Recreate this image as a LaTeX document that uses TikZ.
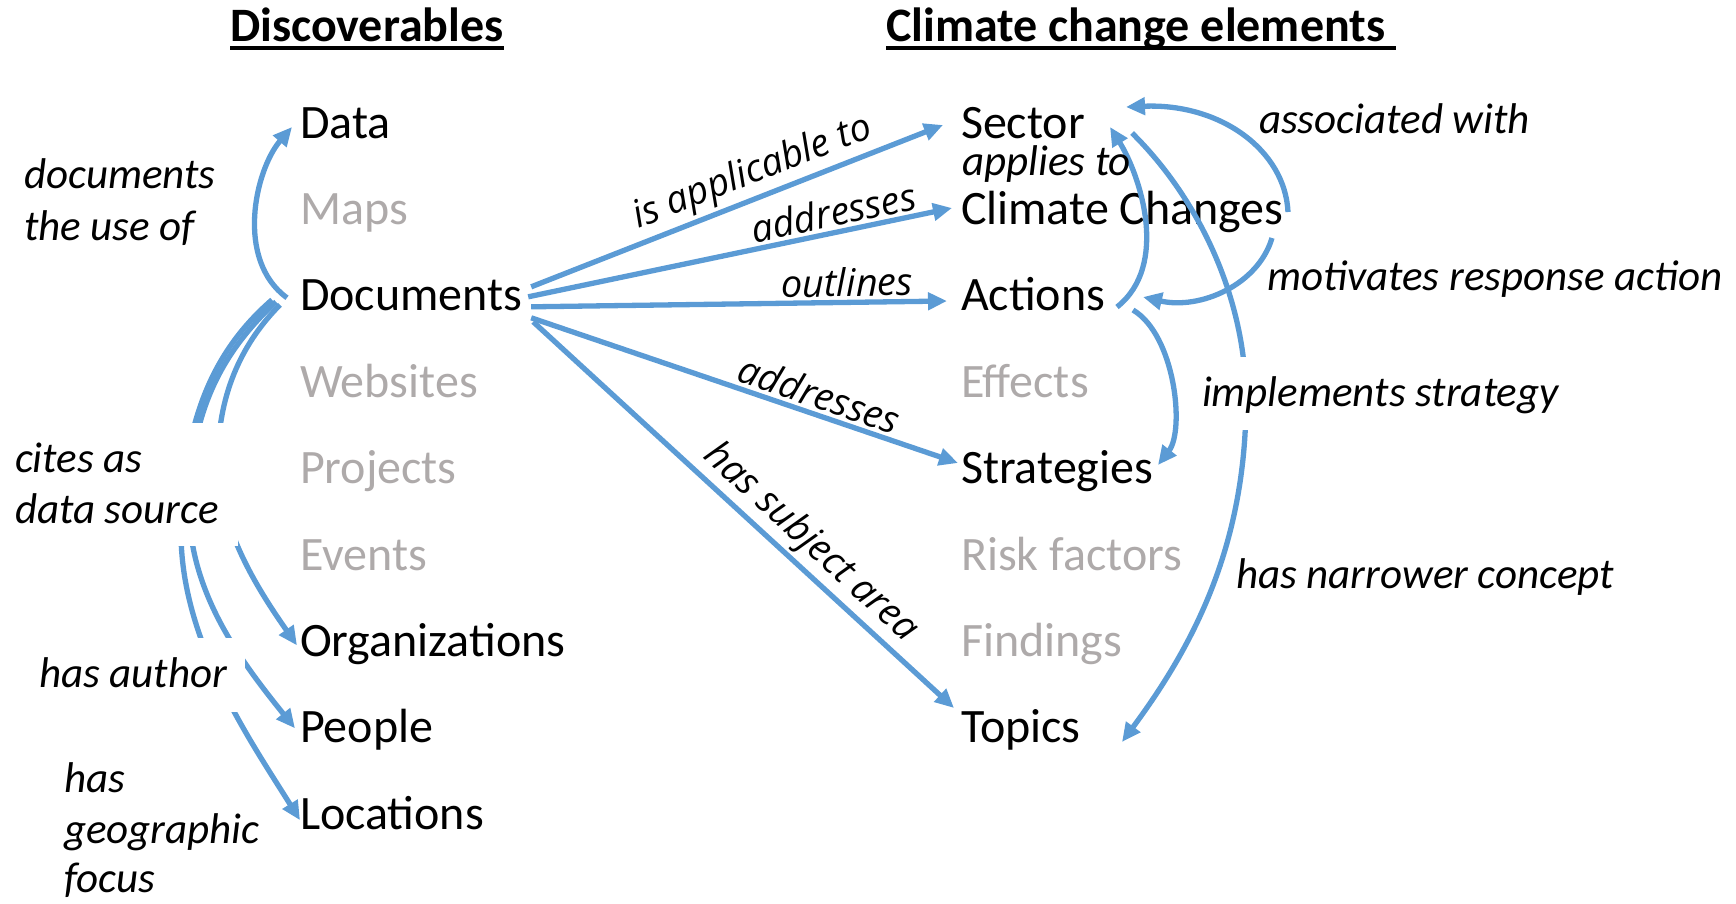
\documentclass[tikz,border=0pt]{standalone}
\usepackage{fontspec}
\setmainfont{Carlito}
\newfontfamily\osans{Open Sans}
\usetikzlibrary{arrows.meta,calc}
\definecolor{lblue}{HTML}{5B9BD5}
\definecolor{lgrey}{HTML}{AEAAAA}
\begin{document}
\begin{tikzpicture}[x=1pt,y=-1pt,
  word/.style={anchor=base west, inner sep=0pt, outer sep=0pt, font=\fontsize{48}{57}\selectfont},
  dim/.style={word, text=lgrey},
  lab/.style={anchor=base west, inner sep=0pt, outer sep=0pt, font=\fontsize{43}{51}\selectfont\itshape},
  mlab/.style={inner sep=3pt, sloped, font=\osans\fontsize{38}{45}\selectfont\itshape},
  arr/.style={draw=lblue, line width=5.3pt, -{Triangle[length=19pt,width=17pt]}},
  ttl/.style={anchor=base west, inner sep=0pt, outer sep=0pt, font=\fontsize{48}{57}\selectfont\bfseries},
  uline/.style={line width=3.5pt}]
\useasboundingbox (0,0) rectangle (1736,903);

% titles
\node[ttl] (t1) at (230,41) {Discoverables};
\node[ttl] (t2) at (886,41) {Climate change elements};
\draw[uline] ($(t1.base west)+(0,7)$) -- ($(t1.base east)+(0,7)$);
\draw[uline] ($(t2.base west)+(0,7)$) -- ($(t2.base east)+(11,7)$);

% left column
\node[word] (data)   at (300,138)   {Data};
\node[dim]  (maps)   at (300,224.4) {Maps};
\node[word] (doc)    at (300,310.8) {Documents};
\node[dim]  (web)    at (300,397.2) {Websites};
\node[dim]  (proj)   at (300,483.6) {Projects};
\node[dim]  (events) at (300,570)   {Events};
\node[word] (org)    at (300,656.4) {Organizations};
\node[word] (people) at (300,742.8) {People};
\node[word] (loc)    at (300,829.2) {Locations};

% right column
\node[word] (sector)   at (961,138)   {Sector};
\node[word] (cc)       at (961,224.4) {Climate Changes};
\node[word] (actions)  at (961,310.8) {Actions};
\node[dim]  (effects)  at (961,397.2) {Effects};
\node[word] (strat)    at (961,483.6) {Strategies};
\node[dim]  (risk)     at (961,570)   {Risk factors};
\node[dim]  (findings) at (961,656.4) {Findings};
\node[word] (topics)   at (961,742.8) {Topics};

% straight arrows from Documents
\draw[arr] ($(doc.base east)+(9,-24)$) -- node[mlab, above, pos=0.56] (e1) {is applicable to} ($(sector.base west)+(-18,-13)$);
\draw[arr] ($(doc.base east)+(6,-14)$) -- node[mlab, above, pos=0.73] (e2) {addresses} ($(cc.base west)+(-9,-16.4)$);
\draw[arr] ($(doc.base east)+(9,-4)$) -- node[mlab, above, pos=0.76] (e3) {outlines} ($(actions.base west)+(-14,-9.8)$);
\draw[arr] ($(doc.base east)+(9,7)$) -- node[mlab, above, pos=0.66] (e4) {addresses} ($(strat.base west)+(-3,-20.6)$);
\draw[arr] ($(doc.base east)+(11,11)$) -- node[mlab, above, pos=0.62] (e5) {has subject area} ($(topics.base west)+(-7,-34.8)$);

% left curves
\draw[arr] ($(doc.base west)+(-13,-13)$) .. controls (235,260) and (255,170) .. ($(data.base west)+(-8,-11)$);
\draw[arr] ($(doc.base west)+(-20,-6)$) .. controls (245,340) and (218,390) .. (218,460) .. controls (218,530) and (262,595) .. ($(org.base west)+(-3,-11)$);
\draw[arr] ($(doc.base west)+(-24,-9)$) .. controls (230,345) and (192,400) .. (189,500) .. controls (187,590) and (240,660) .. ($(people.base west)+(-5,-14.5)$);
\draw[arr] ($(doc.base west)+(-28,-11)$) .. controls (220,345) and (183,410) .. (181,530) .. controls (180,640) and (250,740) .. ($(loc.base west)+(0,-9)$);

% right curves
\draw[arr] ($(cc.base west)+(327,-12.4)$) .. controls (1285,150) and (1220,103) .. ($(sector.base west)+(165,-31)$);
\draw[arr] ($(actions.base west)+(156,-3.8)$) .. controls (1170,265) and (1140,175) .. ($(sector.base west)+(149,-11)$);
\draw[arr] ($(cc.base west)+(311,13.6)$) .. controls (1258,285) and (1200,310) .. ($(actions.base west)+(182,-13.8)$);
\draw[arr] ($(actions.base west)+(172,-0.8)$) .. controls (1175,335) and (1185,430) .. ($(strat.base west)+(197,-18.6)$);
\draw[arr] ($(sector.base west)+(171,-5)$) .. controls (1200,200) and (1246,300) .. (1246,400) .. controls (1246,550) and (1190,650) .. ($(topics.base west)+(161,-0.8)$);

% white masks behind labels
\fill[white] (0,423) rectangle (238,546);
\fill[white] (0,638) rectangle (245,712);
\fill[white] (1195,357) rectangle (1565,430);

% left labels
\node[lab] (l1) at (24,188) {documents};
\node[lab] (l2) at (24,240) {the use of};
\node[lab] (l3) at (15,472) {cites as};
\node[lab] (l4) at (15,523) {data source};
\node[lab] (l5) at (39,687) {has author};
\node[lab] (l6) at (64,792) {has};
\node[lab] (l7) at (64,843) {geographic};
\node[lab] (l8) at (64,892) {focus};

% right labels
\node[lab] (r1) at (1259,133) {associated with};
\node[lab] (r2) at (962,175)  {applies to};
\node[lab] (r3) at (1267,290) {motivates response action};
\node[lab] (r4) at (1202,406) {implements strategy};
\node[lab] (r5) at (1236,588) {has narrower concept};
\end{tikzpicture}
\end{document}
